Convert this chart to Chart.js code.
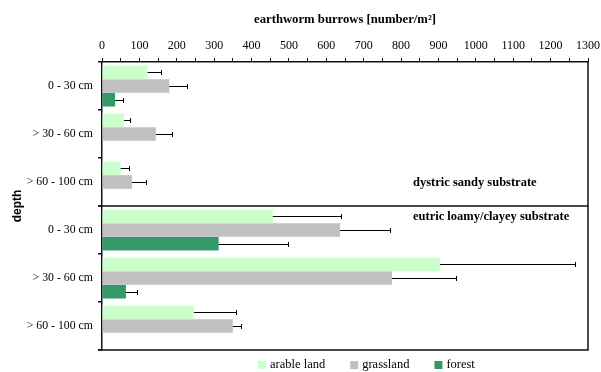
<!DOCTYPE html>
<html>
<head>
<meta charset="utf-8">
<script src="https://cdn.jsdelivr.net/npm/chart.js@4.4.1/dist/chart.umd.min.js"></script>
<style>
  html, body { margin: 0; padding: 0; background: #fff; }
  #wrap { width: 601px; height: 372px; }
</style>
</head>
<body>
<div id="wrap"><canvas id="c" width="601" height="372"></canvas></div>
<script>
// Depth classes: first three rows dystric sandy, last three eutric loamy/clayey
const depths = ['0 - 30 cm', '> 30 - 60 cm', '> 60 - 100 cm', '0 - 30 cm', '> 30 - 60 cm', '> 60 - 100 cm'];

// Mean earthworm burrows [number/m²] and standard deviation per land use
const arable      = [122, 59, 50, 457, 904, 246];
const arableErr   = [37, 16, 21, 181, 361, 113];
const grassland   = [180, 144, 80, 637, 776, 350];
const grassErr    = [48, 42, 37, 133, 172, 21];
const forest      = [35, null, null, 312, 64, null];
const forestErr   = [21, 0, 0, 185, 29, 0];

const seriesNames = ['arable land', 'grassland', 'forest'];
const substrates  = ['dystric sandy substrate', 'eutric loamy/clayey substrate'];
const xMax = 1300;

const SERIF = "'Liberation Serif', 'Times New Roman', serif";
const SANS  = "'Liberation Sans', Arial, sans-serif";

// One-sided error whiskers with an end cap
const errorBars = {
  id: 'errorBars',
  afterDatasetsDraw(chart) {
    const ctx = chart.ctx;
    const xs = chart.scales.x;
    ctx.save();
    ctx.strokeStyle = '#000';
    ctx.lineWidth = 1;
    chart.data.datasets.forEach((ds, di) => {
      const meta = chart.getDatasetMeta(di);
      ds.errors.forEach((e, i) => {
        const v = ds.data[i];
        if (v == null || !e) return;
        const bar = meta.data[i];
        const y = Math.round(bar.y) + 0.5;
        const x0 = xs.getPixelForValue(v);
        const x1 = Math.round(xs.getPixelForValue(v + e)) + 0.5;
        ctx.beginPath();
        ctx.moveTo(x0, y);
        ctx.lineTo(x1, y);
        ctx.moveTo(x1, y - 2.5);
        ctx.lineTo(x1, y + 2.5);
        ctx.stroke();
      });
    });
    ctx.restore();
  }
};

// Right/bottom frame, substrate divider, substrate captions and legend
const frame = {
  id: 'frame',
  afterDraw(chart) {
    const ctx = chart.ctx;
    const a = chart.chartArea;
    const ys = chart.scales.y;
    ctx.save();
    ctx.strokeStyle = '#111';
    ctx.lineWidth = 1.5;
    ctx.beginPath();
    ctx.moveTo(a.right, a.top - 1);
    ctx.lineTo(a.right, a.bottom);
    ctx.lineTo(a.left - 4, a.bottom);
    const yDiv = (ys.getPixelForValue(2) + ys.getPixelForValue(3)) / 2;
    ctx.moveTo(a.left - 4, yDiv);
    ctx.lineTo(a.right, yDiv);
    ctx.stroke();

    ctx.fillStyle = '#000';
    ctx.font = 'bold 12.5px ' + SERIF;
    ctx.textBaseline = 'middle';
    ctx.textAlign = 'left';
    ctx.fillText(substrates[0], 413, yDiv - 23);
    ctx.fillText(substrates[1], 413, yDiv + 11);

    // legend
    ctx.font = '12.5px ' + SERIF;
    let lx = 258;
    const ly = 365;
    chart.data.datasets.forEach(ds => {
      ctx.fillStyle = ds.backgroundColor;
      ctx.fillRect(lx, ly - 4, 8, 8);
      ctx.fillStyle = '#000';
      ctx.fillText(ds.label, lx + 12, ly);
      lx += 12 + ctx.measureText(ds.label).width + 25;
    });
    ctx.restore();
  }
};

new Chart(document.getElementById('c'), {
  type: 'bar',
  data: {
    labels: depths,
    datasets: [
      { label: seriesNames[0], data: arable, errors: arableErr, backgroundColor: '#ccffcc' },
      { label: seriesNames[1], data: grassland, errors: grassErr, backgroundColor: '#c0c0c0' },
      { label: seriesNames[2], data: forest, errors: forestErr, backgroundColor: '#339966' }
    ]
  },
  options: {
    indexAxis: 'y',
    responsive: false,
    animation: false,
    devicePixelRatio: 1,
    layout: { padding: { left: 0, right: 13, top: 0, bottom: 22 } },
    datasets: { bar: { categoryPercentage: 0.855, barPercentage: 1.0, borderWidth: 0 } },
    plugins: {
      legend: { display: false },
      tooltip: { enabled: false }
    },
    scales: {
      x: {
        position: 'top',
        min: 0,
        max: xMax,
        afterFit(s) { s.height = 62; s.paddingLeft = 0; s.paddingRight = 0; },
        ticks: {
          stepSize: 50,
          autoSkip: false,
          maxRotation: 0,
          padding: 5,
          color: '#000',
          font: { family: SERIF, size: 12 },
          callback: v => (v % 100 === 0 ? String(v) : '')
        },
        grid: {
          drawOnChartArea: false,
          tickLength: 4,
          color: '#111',
          lineWidth: 1
        },
        border: { display: true, color: '#111', width: 1.5 },
        title: {
          display: true,
          text: 'earthworm burrows [number/m²]',
          color: '#000',
          font: { family: SERIF, size: 12.7, weight: 'bold' },
          padding: { top: 12, bottom: 0 }
        }
      },
      y: {
        afterFit(s) { s.width = 102; },
        ticks: {
          padding: 5,
          color: '#000',
          font: { family: SERIF, size: 11.8 }
        },
        grid: {
          offset: true,
          drawOnChartArea: false,
          tickLength: 4,
          color: '#111',
          lineWidth: 1.5
        },
        border: { display: true, color: '#111', width: 1.5 },
        title: {
          display: true,
          text: 'depth',
          color: '#000',
          font: { family: SANS, size: 12, weight: 'bold' },
          padding: { top: 10, bottom: 0 }
        }
      }
    }
  },
  plugins: [errorBars, frame]
});
</script>
</body>
</html>
